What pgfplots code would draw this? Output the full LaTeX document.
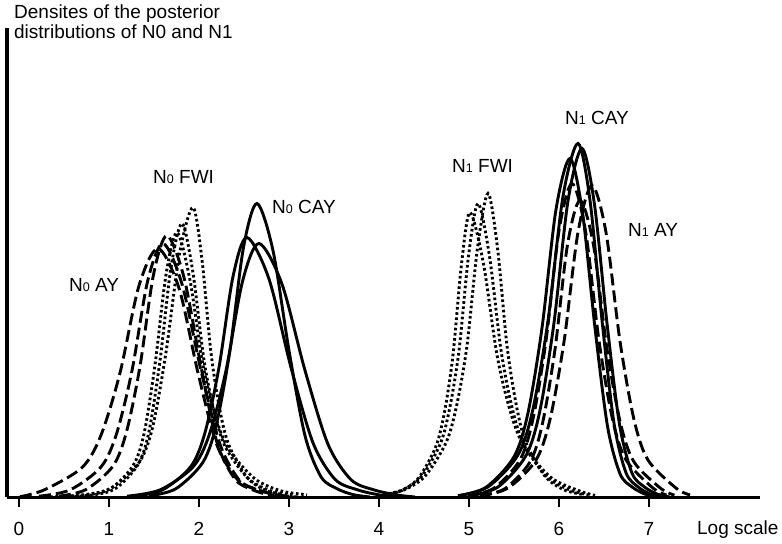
\documentclass[border=0pt]{standalone}
\usepackage{fontspec}
\setmainfont{Liberation Sans}
\usepackage{pgfplots}
\pgfplotsset{compat=1.18}
\newcommand{\sub}[1]{{\fontsize{12.5}{12.5}\selectfont #1}}
\newcommand{\lbl}{\fontsize{19}{19}\selectfont}
\begin{document}
\begin{tikzpicture}
\begin{axis}[
  scale only axis, width=753pt, height=469.5pt,
  xmin=-0.1333, xmax=8.233, ymin=0, ymax=4.695,
  axis x line=bottom, axis y line=left,
  axis line style={-, line width=3.5pt},
  xtick={0,1,2,3,4,5,6,7}, ytick=\empty,
  xtick align=outside, major tick length=10pt,
  xtick style={line width=2.5pt, black},
  tick label style={font=\lbl},
  /pgf/number format/assume math mode=true,
  xticklabel style={anchor=base, yshift=-28pt},
  clip=false,
  cycle list={{black,solid}},
  every axis plot/.append style={line width=2.9pt, black, smooth, no markers},
]
\path (axis cs:-0.2111,-0.465) rectangle (axis cs:8.4778,4.975);
% N0 AY (dashed)
\addplot[black, dash pattern=on 12pt off 5pt] coordinates {(0.011,0.008) (0.278,0.075) (0.700,0.299) (0.911,0.623) (1.122,1.245) (1.333,2.117) (1.544,2.49) (1.778,2.092) (1.989,1.245) (2.2,0.523) (2.433,0.174) (2.656,0.075) (2.878,0.025) (3.1,0.005)};
\addplot[black, dash pattern=on 12pt off 5pt] coordinates {(0.222,0.013) (0.567,0.076) (0.911,0.305) (1.083,0.635) (1.256,1.27) (1.428,2.159) (1.6,2.54) (1.811,2.134) (2.022,1.27) (2.233,0.533) (2.444,0.178) (2.656,0.076) (2.867,0.025) (3.05,0.005)};
\addplot[black, dash pattern=on 12pt off 5pt] coordinates {(0.444,0.013) (0.744,0.079) (1.044,0.314) (1.194,0.655) (1.344,1.31) (1.494,2.227) (1.644,2.62) (1.833,2.201) (2.022,1.31) (2.2,0.55) (2.4,0.183) (2.589,0.079) (2.778,0.026) (2.95,0.005)};
% N0 FWI (dotted)
\addplot[black, dash pattern=on 2.6pt off 2.6pt] coordinates {(0.289,0.003) (0.733,0.029) (1.033,0.099) (1.333,0.348) (1.483,0.696) (1.633,1.45) (1.783,2.436) (1.933,2.90) (2.033,2.378) (2.133,1.45) (2.233,0.87) (2.333,0.522) (2.533,0.203) (2.733,0.073) (2.933,0.029)};
\addplot[black, dash pattern=on 2.6pt off 2.6pt] coordinates {(0.444,0.003) (0.833,0.027) (1.078,0.093) (1.322,0.329) (1.444,0.658) (1.567,1.37) (1.689,2.302) (1.811,2.74) (1.933,2.247) (2.056,1.37) (2.178,0.822) (2.3,0.493) (2.544,0.192) (2.789,0.069) (3.033,0.027)};
\addplot[black, dash pattern=on 2.6pt off 2.6pt] coordinates {(0.411,0.003) (0.778,0.027) (1.022,0.09) (1.267,0.318) (1.389,0.636) (1.511,1.325) (1.633,2.226) (1.756,2.65) (1.9,2.173) (2.044,1.325) (2.189,0.795) (2.333,0.477) (2.622,0.186) (2.911,0.066) (3.2,0.027)};
% N0 CAY (solid)
\addplot[black, solid] coordinates {(1.444,0.015) (1.744,0.088) (2.044,0.353) (2.194,0.735) (2.344,1.47) (2.494,2.499) (2.644,2.94) (2.822,2.47) (3.0,1.47) (3.178,0.617) (3.356,0.206) (3.533,0.088) (3.711,0.029) (3.9,0.005)};
\addplot[black, solid] coordinates {(1.289,0.013) (1.6,0.078) (1.911,0.312) (2.067,0.65) (2.222,1.3) (2.378,2.21) (2.533,2.6) (2.778,2.184) (3.022,1.3) (3.267,0.546) (3.511,0.182) (3.756,0.078) (4.0,0.026) (4.2,0.005)};
\addplot[black, solid] coordinates {(1.2,0.013) (1.567,0.076) (1.933,0.305) (2.117,0.635) (2.3,1.27) (2.483,2.159) (2.667,2.54) (2.922,2.134) (3.178,1.27) (3.433,0.533) (3.689,0.178) (3.944,0.076) (4.2,0.025) (4.4,0.005)};
% N1 FWI (dotted)
\addplot[black, dash pattern=on 2.6pt off 2.6pt] coordinates {(4.044,0.030) (4.278,0.076) (4.511,0.213) (4.744,0.547) (4.861,0.912) (4.978,1.52) (5.094,2.493) (5.211,3.04) (5.317,2.493) (5.422,1.52) (5.528,0.912) (5.633,0.547) (5.844,0.213) (6.056,0.076) (6.267,0.030)};
\addplot[black, dash pattern=on 2.6pt off 2.6pt] coordinates {(4.044,0.029) (4.256,0.074) (4.467,0.206) (4.678,0.529) (4.783,0.882) (4.889,1.47) (4.994,2.411) (5.1,2.94) (5.228,2.411) (5.356,1.47) (5.483,0.882) (5.611,0.529) (5.867,0.206) (6.122,0.074) (6.33,0.025)};
\addplot[black, dash pattern=on 2.6pt off 2.6pt] coordinates {(4.067,0.029) (4.256,0.071) (4.444,0.2) (4.633,0.513) (4.728,0.855) (4.822,1.425) (4.917,2.337) (5.011,2.85) (5.161,2.337) (5.311,1.425) (5.461,0.855) (5.611,0.513) (5.911,0.2) (6.211,0.071) (6.4,0.02)};
% N1 CAY (solid)
\addplot[black, solid] coordinates {(4.878,0.018) (5.211,0.106) (5.544,0.425) (5.711,0.885) (5.878,1.77) (6.044,3.009) (6.211,3.54) (6.344,2.974) (6.478,1.77) (6.611,0.743) (6.744,0.248) (6.878,0.106) (7.011,0.035) (7.15,0.005)};
\addplot[black, solid] coordinates {(5.011,0.017) (5.322,0.105) (5.633,0.419) (5.789,0.873) (5.944,1.745) (6.1,2.967) (6.256,3.49) (6.394,2.932) (6.533,1.745) (6.672,0.733) (6.811,0.244) (6.95,0.105) (7.089,0.035) (7.23,0.005)};
\addplot[black, solid] coordinates {(4.878,0.017) (5.189,0.102) (5.5,0.407) (5.656,0.848) (5.811,1.695) (5.967,2.882) (6.122,3.39) (6.261,2.848) (6.4,1.695) (6.539,0.712) (6.678,0.237) (6.817,0.102) (6.956,0.034) (7.1,0.005)};
% N1 AY (dashed)
\addplot[black, dash pattern=on 12pt off 5pt] coordinates {(4.989,0.016) (5.278,0.094) (5.567,0.377) (5.711,0.785) (5.856,1.57) (6.0,2.669) (6.144,3.14) (6.294,2.669) (6.444,1.57) (6.594,0.785) (6.744,0.377) (7.044,0.094) (7.194,0.025)};
\addplot[black, dash pattern=on 12pt off 5pt] coordinates {(5.122,0.016) (5.433,0.094) (5.744,0.374) (5.9,0.78) (6.056,1.56) (6.211,2.652) (6.367,3.12) (6.522,2.652) (6.678,1.56) (6.833,0.78) (6.989,0.374) (7.3,0.094) (7.456,0.025)};
\addplot[black, dash pattern=on 12pt off 5pt] coordinates {(5.122,0.015) (5.4,0.089) (5.678,0.356) (5.817,0.743) (5.956,1.485) (6.094,2.525) (6.233,2.97) (6.383,2.525) (6.533,1.485) (6.683,0.743) (6.833,0.356) (7.133,0.089) (7.283,0.024)};
% labels
\node[anchor=base west, inner sep=0, font=\lbl] at (axis cs:-0.056,4.785) {Densites of the posterior};
\node[anchor=base west, inner sep=0, font=\lbl] at (axis cs:-0.056,4.585) {distributions of N0 and N1};
\node[anchor=base west, inner sep=0, font=\lbl] at (axis cs:1.489,3.135) {N\sub{0} FWI};
\node[anchor=base west, inner sep=0, font=\lbl] at (axis cs:2.811,2.835) {N\sub{0} CAY};
\node[anchor=base west, inner sep=0, font=\lbl] at (axis cs:0.556,2.055) {N\sub{0} AY};
\node[anchor=base west, inner sep=0, font=\lbl] at (axis cs:4.811,3.245) {N\sub{1} FWI};
\node[anchor=base west, inner sep=0, font=\lbl] at (axis cs:6.067,3.725) {N\sub{1} CAY};
\node[anchor=base west, inner sep=0, font=\lbl] at (axis cs:6.767,2.605) {N\sub{1} AY};
\node[anchor=base west, inner sep=0, font=\lbl] at (axis cs:7.533,-0.375) {Log scale};
\end{axis}
\end{tikzpicture}
\end{document}
